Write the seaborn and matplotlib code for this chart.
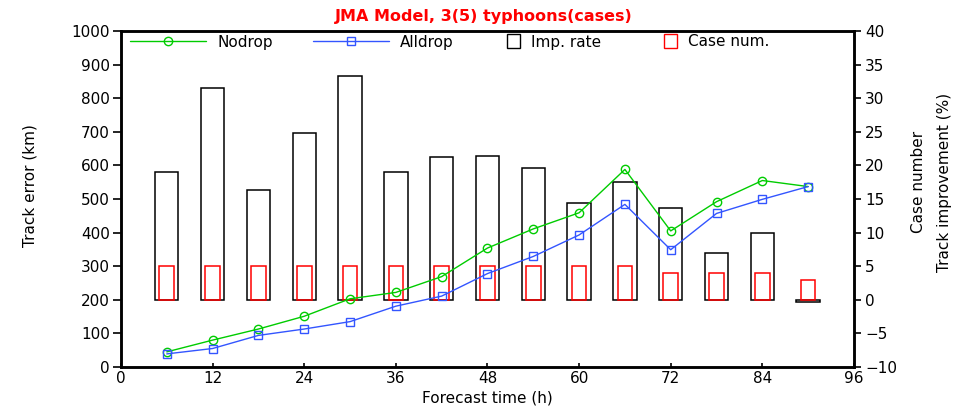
import matplotlib
matplotlib.use("Agg")
import matplotlib.pyplot as plt
import seaborn as sns
import numpy as np
import pandas as pd
from matplotlib.lines import Line2D
from matplotlib.patches import Rectangle
from matplotlib.legend_handler import HandlerPatch

hours = [6, 12, 18, 24, 30, 36, 42, 48, 54, 60, 66, 72, 78, 84, 90]
nodrop = [45, 80, 113, 151, 203, 222, 269, 354, 411, 459, 588, 405, 492, 555, 537]
alldrop = [39, 55, 94, 113, 135, 181, 211, 278, 329, 393, 484, 349, 457, 499, 537]
imp_rate = [19.0, 31.5, 16.4, 24.8, 33.3, 19.0, 21.2, 21.4, 19.6, 14.4, 17.5, 13.6, 6.9, 9.9, -0.4]
case_num = [5, 5, 5, 5, 5, 5, 5, 5, 5, 5, 5, 4, 4, 4, 3]

sns.set_style("ticks")
plt.rcParams['font.family'] = ['DejaVu Sans']
for k in ['text.color', 'axes.labelcolor', 'xtick.color', 'ytick.color', 'axes.edgecolor']:
    plt.rcParams[k] = 'black'

fig = plt.figure(figsize=(9.67, 4.07), dpi=100)
ax = fig.add_axes([0.1251, 0.0983, 0.758, 0.8255])
ax2 = ax.twinx()

df = pd.DataFrame({"h": hours, "nodrop": nodrop, "alldrop": alldrop,
                   "imp": imp_rate, "case": case_num})

sns.barplot(data=df, x="h", y="imp", native_scale=True, width=0.51, fill=False,
            edgecolor="black", linewidth=1.1, ax=ax2, errorbar=None)
sns.barplot(data=df, x="h", y="case", native_scale=True, width=0.32, fill=False,
            edgecolor="#ff0000", linewidth=1.1, ax=ax2, errorbar=None)

green = "#00cc00"
blue = "#3355ff"
sns.lineplot(data=df, x="h", y="nodrop", ax=ax, color=green, marker="o",
             markersize=6, markerfacecolor="none", markeredgecolor=green,
             markeredgewidth=1.0, linewidth=1.0)
sns.lineplot(data=df, x="h", y="alldrop", ax=ax, color=blue, marker="s",
             markersize=6, markerfacecolor="none", markeredgecolor=blue,
             markeredgewidth=1.0, linewidth=1.0)

ax.set_zorder(ax2.get_zorder() + 1)
ax.patch.set_visible(False)

ax.set_xlim(0, 96)
ax.set_ylim(0, 1000)
ax2.set_ylim(-10, 40)
ax.set_xticks(range(0, 97, 12))
ax.set_yticks(range(0, 1001, 100))
ax2.set_yticks(range(-10, 41, 5))

fs = 11
ax.tick_params(axis="y", labelsize=fs, direction="out", length=6, width=1.2, pad=2)
ax.tick_params(axis="x", labelsize=fs, direction="in", length=3, width=1.2, pad=3)
ax2.tick_params(axis="y", labelsize=fs, direction="out", length=5, width=1.2, pad=3)
ax2.tick_params(axis="x", bottom=False, top=False)

for a in (ax, ax2):
    for s in a.spines.values():
        s.set_linewidth(1.8)
        s.set_visible(True)

ax.set_xlabel("Forecast time (h)", fontsize=fs)
ax.xaxis.set_label_coords(0.5, -0.092)
ax.xaxis.label.set_va("center")

ax.set_ylabel("Track error (km)", fontsize=fs)
ax.yaxis.set_label_coords(-0.124, 0.54)
ax.yaxis.label.set_va("center")

ax2.set_ylabel("Case number\nTrack improvement (%)", fontsize=fs, linespacing=1.9)
ax2.yaxis.set_label_coords(1.106, 0.55)
ax2.yaxis.label.set_va("center")

fig.text(0.5, 0.96, "JMA Model, 3(5) typhoons(cases)", color="#ff0000",
         fontsize=11.5, fontweight="bold", ha="center", va="center")


def square_patch(legend, orig_handle, xdescent, ydescent, width, height, fontsize):
    s = height * 1.25
    return Rectangle((width - s - xdescent, -ydescent + (height - s) / 2), s, s)


line_handles = [
    Line2D([0], [0], color=green, marker="o", markerfacecolor="none",
           markeredgecolor=green, markersize=6, linewidth=1.0),
    Line2D([0], [0], color=blue, marker="s", markerfacecolor="none",
           markeredgecolor=blue, markersize=6, linewidth=1.0),
]
box_handles = [
    Rectangle((0, 0), 1, 1, fill=False, edgecolor="black", linewidth=1.0),
    Rectangle((0, 0), 1, 1, fill=False, edgecolor="#ff0000", linewidth=1.0),
]
entries = [
    (line_handles[0], "Nodrop", 130, 5.0),
    (line_handles[1], "Alldrop", 313, 5.0),
    (box_handles[0], "Imp. rate", 505, 1.0),
    (box_handles[1], "Case num.", 662, 1.0),
]
W, H = 967.0, 407.0
for h, lab, xpx, hl in entries:
    fig.legend([h], [lab], loc="center left",
               bbox_to_anchor=(xpx / W, 1 - 42 / H),
               frameon=False, fontsize=fs, handlelength=hl,
               handletextpad=0.7, borderpad=0, borderaxespad=0,
               handler_map={Rectangle: HandlerPatch(patch_func=square_patch)})

fig.savefig("out.png", dpi=100)
